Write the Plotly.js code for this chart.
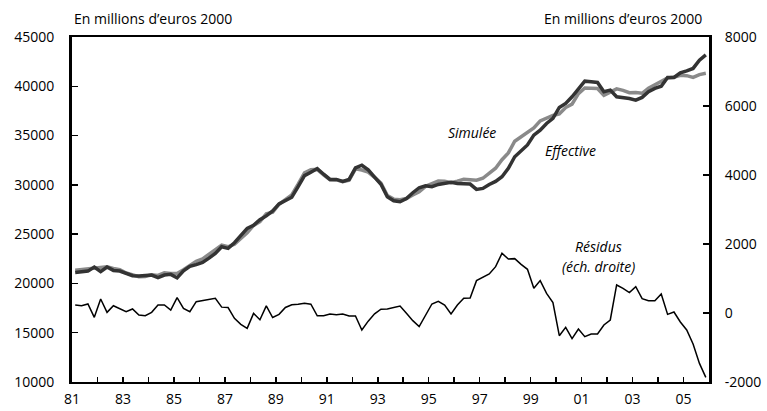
<!DOCTYPE html>
<html>
<head>
<meta charset="utf-8">
<script src="https://cdn.plot.ly/plotly-3.0.1.min.js"></script>
<style>html,body{margin:0;padding:0;background:#fff;}#chart{width:767px;height:411px;}</style>
</head>
<body>
<div id="chart"></div>
<script>
// Quarterly data, 1981Q1 .. 2005Q4
const startYear = 1981;
const effective = [
  21120, 21190, 21250, 21660, 21190, 21660, 21320, 21260, 21020, 20780,
  20750, 20780, 20850, 20580, 20850, 20920, 20560, 21270, 21730, 21910,
  22120, 22560, 23050, 23720, 23560, 24130, 24900, 25580, 25900, 26460,
  26850, 27350, 28070, 28370, 28750, 29810, 30940, 31280, 31650, 31080,
  30550, 30550, 30350, 30550, 31720, 31990, 31530, 30790, 30060, 28790,
  28390, 28290, 28620, 29200, 29710, 29910, 29810, 30040, 30140, 30250,
  30140, 30140, 30080, 29540, 29640, 30040, 30350, 30820, 31670, 32850,
  33450, 34050, 35050, 35550, 36230, 36740, 37850, 38260, 38930, 39710,
  40520, 40450, 40390, 39440, 39610, 38930, 38870, 38760, 38600, 38870,
  39440, 39780, 40010, 40890, 40890, 41370, 41570, 41810, 42650, 43190
];
const simulee = [
  21350, 21400, 21510, 21530, 21600, 21680, 21530, 21400, 21060, 20900,
  20690, 20700, 20870, 20810, 21080, 21010, 21000, 21400, 21770, 22240,
  22490, 22950, 23480, 23890, 23720, 23980, 24570, 25140, 25890, 26270,
  27060, 27220, 28030, 28530, 28990, 30070, 31230, 31540, 31570, 31000,
  30520, 30500, 30320, 30460, 31630, 31500, 31290, 30770, 30170, 28910,
  28550, 28490, 28610, 28980, 29310, 29850, 30070, 30380, 30370, 30220,
  30370, 30570, 30520, 30480, 30670, 31170, 31690, 32550, 33240, 34430,
  34860, 35320, 35770, 36490, 36800, 37040, 37190, 37840, 38190, 39250,
  39830, 39840, 39780, 39090, 39410, 39740, 39590, 39350, 39360, 39290,
  39800, 40140, 40560, 40850, 40920, 41110, 41080, 40910, 41190, 41320
];
const residus = [
  232, 213, 261, -126, 406, 19, 210, 135, 39, 116,
  -58, -77, 19, 232, 232, 87, 445, 135, 39, 329,
  367, 387, 425, 170, 158, -155, -329, -445, -10, -195,
  208, -130, -39, 160, 240, 255, 285, 255, -82, -82,
  -29, -48, -29, -87, -87, -493, -236, -25, 111, 116,
  155, 203, -10, -222, -396, -58, 261, 338, 232, -29,
  232, 425, 435, 938, 1034, 1131, 1344, 1730, 1566, 1576,
  1410, 1266, 715, 938, 570, 300, -657, -416, -744, -464,
  -686, -609, -609, -348, -203, 812, 715, 590, 764, 416,
  358, 358, 551, -39, 29, -261, -493, -899, -1460, -1866
];
const tickYears = [1981, 1983, 1985, 1987, 1989, 1991, 1993, 1995, 1997, 1999, 2001, 2003, 2005];
const tickLabels = ['81', '83', '85', '87', '89', '91', '93', '95', '97', '99', '01', '03', '05'];
const rightTicks = [-2000, 0, 2000, 4000, 6000, 8000];
const rightLabels = ['-2000', '0', '2000', '4000', '6000', '8000'];

const x = effective.map((_, i) => startYear + (i + 0.5) / 4);

const FONT = 'Open Sans, Lato, sans-serif';

const traces = [
  {x: x, y: simulee, type: 'scatter', mode: 'lines', name: 'Simulée',
   line: {color: '#8a8a8a', width: 3.5}, yaxis: 'y'},
  {x: x, y: effective, type: 'scatter', mode: 'lines', name: 'Effective',
   line: {color: '#333333', width: 3.5}, yaxis: 'y'},
  {x: x, y: residus, type: 'scatter', mode: 'lines', name: 'Résidus',
   line: {color: '#000000', width: 1.5}, yaxis: 'y2'}
];

const P = (px) => (px - 72) / 637;
const Q = (py) => (382 - py) / 345;

const layout = {
  width: 767, height: 411,
  margin: {l: 72, r: 58, t: 37, b: 29, pad: 0},
  paper_bgcolor: '#fff', plot_bgcolor: '#fff',
  showlegend: false,
  font: {family: FONT, size: 14, color: '#000'},
  xaxis: {
    range: [1981, 2006], showgrid: false, zeroline: false,
    showline: true, linecolor: '#000', linewidth: 2, mirror: true,
    tickvals: tickYears, ticktext: tickLabels,
    ticks: 'inside', ticklen: 5, tickwidth: 1.5, tickcolor: '#000',
    minor: {dtick: 1, tick0: 1981, ticks: 'inside', ticklen: 5, tickwidth: 1.5, tickcolor: '#000', showgrid: false},
    ticklabelstandoff: 3,
    tickfont: {family: FONT, size: 14}
  },
  yaxis: {
    range: [10000, 45000], dtick: 5000, tick0: 10000, tickformat: 'd',
    showgrid: false, zeroline: false,
    showline: true, linecolor: '#000', linewidth: 3,
    ticks: 'inside', ticklen: 6, tickwidth: 1.5, tickcolor: '#000',
    ticklabelstandoff: 12,
    tickfont: {family: FONT, size: 14}
  },
  yaxis2: {
    range: [-2000, 8000], overlaying: 'y', side: 'right',
    tickvals: rightTicks, ticktext: rightLabels,
    showgrid: false, zeroline: false,
    showline: true, linecolor: '#000', linewidth: 3,
    ticks: 'inside', ticklen: 6, tickwidth: 1.5, tickcolor: '#000',
    ticklabelstandoff: 10,
    tickfont: {family: FONT, size: 14}
  },
  annotations: [
    {xref: 'paper', yref: 'paper', x: 0, y: Q(18), xanchor: 'left', yanchor: 'middle',
     text: 'En millions d’euros 2000', showarrow: false, font: {family: FONT, size: 14}},
    {xref: 'paper', yref: 'paper', x: P(704), y: Q(18), xanchor: 'right', yanchor: 'middle',
     text: 'En millions d’euros 2000', showarrow: false, font: {family: FONT, size: 14}},
    {xref: 'paper', yref: 'paper', x: P(472), y: Q(132), xanchor: 'center', yanchor: 'middle',
     text: '<i>Simulée</i>', showarrow: false, font: {family: FONT, size: 14}},
    {xref: 'paper', yref: 'paper', x: P(570), y: Q(150), xanchor: 'center', yanchor: 'middle',
     text: '<i>Effective</i>', showarrow: false, font: {family: FONT, size: 14}},
    {xref: 'paper', yref: 'paper', x: P(598), y: Q(246), xanchor: 'center', yanchor: 'middle',
     text: '<i>Résidus</i>', showarrow: false, font: {family: FONT, size: 14}},
    {xref: 'paper', yref: 'paper', x: P(598), y: Q(266), xanchor: 'center', yanchor: 'middle',
     text: '<i>(éch. droite)</i>', showarrow: false, font: {family: FONT, size: 14}}
  ]
};

Plotly.newPlot('chart', traces, layout, {staticPlot: true, displayModeBar: false});
</script>
</body>
</html>
